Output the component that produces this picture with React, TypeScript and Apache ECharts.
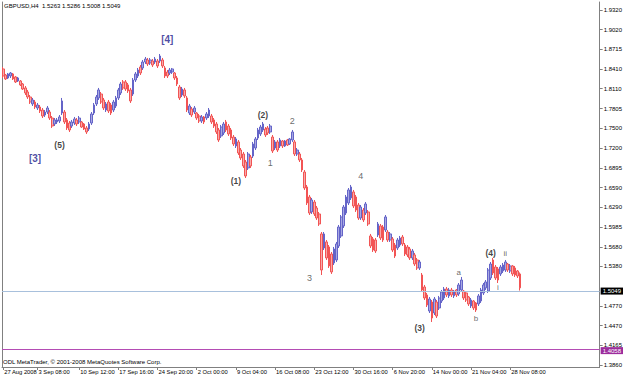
import React, { useEffect, useRef } from "react";
import * as echarts from "echarts";

// H8-style bars (each = two H4 bars), [open, close, low, high]
const augSep: number[][] = [
  [1.8414, 1.8306, 1.8275, 1.8444], [1.8321, 1.8260, 1.8244, 1.8337], [1.8275, 1.8337, 1.8260, 1.8352], [1.8306, 1.8352, 1.8275, 1.8367],
  [1.8337, 1.8260, 1.8244, 1.8352], [1.8291, 1.8214, 1.8198, 1.8306], [1.8229, 1.8275, 1.8214, 1.8291], [1.8229, 1.8168, 1.8152, 1.8244],
  [1.8183, 1.8106, 1.8091, 1.8198], [1.8122, 1.8045, 1.8014, 1.8152], [1.8060, 1.7983, 1.7953, 1.8091], [1.7983, 1.7906, 1.7876, 1.8014],
  [1.7876, 1.7937, 1.7845, 1.7968], [1.7906, 1.7829, 1.7799, 1.7937], [1.7814, 1.7860, 1.7783, 1.7891], [1.7829, 1.7768, 1.7737, 1.7860],
  [1.7783, 1.7691, 1.7660, 1.7814], [1.7706, 1.7752, 1.7676, 1.7783], [1.7752, 1.7814, 1.7722, 1.7845], [1.7752, 1.7660, 1.7630, 1.7783],
  [1.7660, 1.7537, 1.7507, 1.7691], [1.7568, 1.7630, 1.7537, 1.7660], [1.7599, 1.7630, 1.7568, 1.7660], [1.7614, 1.7676, 1.7583, 1.7706],
  [1.7737, 1.7922, 1.7706, 1.7968], [1.7752, 1.7599, 1.7568, 1.7783], [1.7630, 1.7507, 1.7476, 1.7660], [1.7583, 1.7476, 1.7445, 1.7614],
  [1.7537, 1.7599, 1.7507, 1.7630], [1.7583, 1.7645, 1.7553, 1.7676], [1.7630, 1.7568, 1.7537, 1.7660], [1.7599, 1.7660, 1.7568, 1.7691],
  [1.7599, 1.7522, 1.7507, 1.7614], [1.7568, 1.7491, 1.7476, 1.7583], [1.7507, 1.7445, 1.7415, 1.7537], [1.7491, 1.7568, 1.7461, 1.7599],
  [1.7583, 1.7722, 1.7553, 1.7752], [1.7737, 1.7860, 1.7706, 1.7891], [1.7876, 1.7983, 1.7845, 1.8014], [1.7968, 1.8091, 1.7937, 1.8122],
  [1.8029, 1.7906, 1.7876, 1.8060], [1.7937, 1.7814, 1.7783, 1.7968], [1.7783, 1.7876, 1.7752, 1.7906], [1.7906, 1.7768, 1.7737, 1.7937],
  [1.7860, 1.7737, 1.7706, 1.7891], [1.7783, 1.7906, 1.7752, 1.7937], [1.7845, 1.7968, 1.7814, 1.7999], [1.7968, 1.8091, 1.7937, 1.8122],
  [1.8045, 1.8183, 1.8014, 1.8214], [1.8214, 1.8122, 1.8091, 1.8244], [1.8214, 1.8106, 1.8076, 1.8244], [1.8168, 1.8076, 1.8045, 1.8198],
];
const sepOct: number[][] = [
  [1.8091, 1.7922, 1.7891, 1.8122], [1.8029, 1.8244, 1.7999, 1.8275], [1.8244, 1.8337, 1.8214, 1.8367], [1.8306, 1.8398, 1.8275, 1.8429],
  [1.8444, 1.8352, 1.8321, 1.8475], [1.8429, 1.8521, 1.8398, 1.8552], [1.8521, 1.8567, 1.8491, 1.8598], [1.8552, 1.8491, 1.8460, 1.8583],
  [1.8506, 1.8552, 1.8475, 1.8583], [1.8537, 1.8475, 1.8444, 1.8567], [1.8521, 1.8567, 1.8491, 1.8598], [1.8537, 1.8460, 1.8429, 1.8567],
  [1.8537, 1.8613, 1.8506, 1.8644], [1.8552, 1.8460, 1.8429, 1.8583], [1.8429, 1.8306, 1.8275, 1.8460], [1.8367, 1.8306, 1.8275, 1.8398],
  [1.8352, 1.8398, 1.8321, 1.8429], [1.8367, 1.8414, 1.8337, 1.8429], [1.8352, 1.8275, 1.8244, 1.8367], [1.8275, 1.8183, 1.8152, 1.8306],
  [1.8137, 1.7968, 1.7937, 1.8168], [1.8014, 1.8106, 1.7983, 1.8137], [1.8091, 1.7999, 1.7968, 1.8122], [1.7968, 1.7783, 1.7752, 1.7999],
  [1.7737, 1.7845, 1.7706, 1.7876], [1.7799, 1.7706, 1.7676, 1.7829], [1.7752, 1.7814, 1.7722, 1.7845], [1.7737, 1.7660, 1.7630, 1.7752],
  [1.7691, 1.7614, 1.7583, 1.7722], [1.7614, 1.7676, 1.7583, 1.7706], [1.7676, 1.7599, 1.7568, 1.7691], [1.7660, 1.7722, 1.7630, 1.7752],
  [1.7691, 1.7783, 1.7660, 1.7814], [1.7691, 1.7599, 1.7568, 1.7722], [1.7630, 1.7537, 1.7507, 1.7660], [1.7568, 1.7445, 1.7415, 1.7599],
  [1.7476, 1.7322, 1.7292, 1.7507], [1.7384, 1.7522, 1.7353, 1.7553], [1.7430, 1.7568, 1.7399, 1.7599], [1.7599, 1.7476, 1.7445, 1.7630],
  [1.7537, 1.7415, 1.7384, 1.7568], [1.7476, 1.7353, 1.7322, 1.7507], [1.7368, 1.7261, 1.7230, 1.7399], [1.7230, 1.7338, 1.7199, 1.7368],
  [1.7292, 1.7122, 1.7092, 1.7322], [1.7168, 1.7046, 1.7015, 1.7199], [1.7107, 1.6923, 1.6892, 1.7138], [1.6984, 1.6769, 1.6738, 1.7015],
  [1.6892, 1.7107, 1.6861, 1.7138], [1.7061, 1.6923, 1.6892, 1.7092], [1.7076, 1.7261, 1.7046, 1.7292], [1.7199, 1.7338, 1.7168, 1.7368],
];
const octNov: number[][] = [
  [1.7353, 1.7476, 1.7322, 1.7507], [1.7415, 1.7522, 1.7384, 1.7553], [1.7476, 1.7568, 1.7445, 1.7599], [1.7491, 1.7399, 1.7368, 1.7522],
  [1.7507, 1.7430, 1.7399, 1.7537], [1.7445, 1.7537, 1.7415, 1.7568], [1.7368, 1.7153, 1.7122, 1.7399], [1.7199, 1.7292, 1.7168, 1.7322],
  [1.7292, 1.7168, 1.7138, 1.7322], [1.7230, 1.7322, 1.7199, 1.7353], [1.7307, 1.7230, 1.7199, 1.7322], [1.7230, 1.7307, 1.7215, 1.7322],
  [1.7322, 1.7245, 1.7230, 1.7338], [1.7261, 1.7338, 1.7245, 1.7353], [1.7322, 1.7445, 1.7292, 1.7476], [1.7292, 1.7107, 1.7076, 1.7322],
  [1.7107, 1.7168, 1.7076, 1.7199], [1.7107, 1.7015, 1.6984, 1.7138], [1.7015, 1.6861, 1.6830, 1.7046], [1.6830, 1.6584, 1.6554, 1.6861],
  [1.6600, 1.6354, 1.6323, 1.6631], [1.6446, 1.6200, 1.6169, 1.6477], [1.6216, 1.6400, 1.6185, 1.6431], [1.6369, 1.6185, 1.6154, 1.6400],
  [1.6277, 1.6123, 1.6093, 1.6308], [1.6185, 1.6031, 1.6001, 1.6216], [1.5878, 1.5324, 1.5247, 1.5908], [1.5662, 1.5878, 1.5631, 1.5908],
  [1.5755, 1.5509, 1.5478, 1.5785], [1.5678, 1.5386, 1.5355, 1.5708], [1.5570, 1.5294, 1.5263, 1.5601], [1.5432, 1.5647, 1.5401, 1.5678],
  [1.5478, 1.5724, 1.5447, 1.5755], [1.5693, 1.5985, 1.5662, 1.6016], [1.5847, 1.6139, 1.5816, 1.6169], [1.6001, 1.6292, 1.5970, 1.6323],
  [1.6200, 1.6446, 1.6169, 1.6477], [1.6354, 1.6554, 1.6323, 1.6584], [1.6431, 1.6600, 1.6400, 1.6631], [1.6523, 1.6308, 1.6277, 1.6554],
  [1.6446, 1.6246, 1.6216, 1.6477], [1.6323, 1.6123, 1.6093, 1.6354], [1.6123, 1.6292, 1.6093, 1.6323], [1.6246, 1.6093, 1.6062, 1.6277],
  [1.6200, 1.6339, 1.6169, 1.6369], [1.6216, 1.6031, 1.6001, 1.6246], [1.5847, 1.5693, 1.5662, 1.5878], [1.5801, 1.5631, 1.5601, 1.5831],
  [1.5785, 1.5616, 1.5586, 1.5816], [1.5862, 1.6031, 1.5831, 1.6062], [1.6001, 1.5816, 1.5785, 1.6031], [1.5985, 1.5785, 1.5755, 1.6016],
];
const novBars: number[][] = [
  [1.5939, 1.6139, 1.5908, 1.6169], [1.5908, 1.5785, 1.5755, 1.5939], [1.5785, 1.5878, 1.5755, 1.5908], [1.5801, 1.5631, 1.5601, 1.5831],
  [1.5708, 1.5539, 1.5509, 1.5739], [1.5662, 1.5785, 1.5631, 1.5816], [1.5708, 1.5816, 1.5678, 1.5847], [1.5831, 1.5724, 1.5693, 1.5862],
  [1.5708, 1.5570, 1.5539, 1.5739], [1.5678, 1.5555, 1.5524, 1.5708], [1.5647, 1.5509, 1.5478, 1.5678], [1.5509, 1.5616, 1.5478, 1.5647],
  [1.5555, 1.5416, 1.5386, 1.5586], [1.5478, 1.5355, 1.5324, 1.5509], [1.5355, 1.5447, 1.5324, 1.5478], [1.5247, 1.5017, 1.4986, 1.5278],
  [1.5063, 1.4894, 1.4863, 1.5094], [1.4940, 1.4786, 1.4755, 1.4971], [1.4694, 1.4878, 1.4663, 1.4909], [1.4832, 1.4586, 1.4525, 1.4863],
  [1.4663, 1.4878, 1.4632, 1.4909], [1.4832, 1.4617, 1.4586, 1.4863], [1.4740, 1.4894, 1.4709, 1.4925], [1.4848, 1.4986, 1.4817, 1.5017],
  [1.4894, 1.5032, 1.4863, 1.5063], [1.5032, 1.4940, 1.4909, 1.5063], [1.4925, 1.5017, 1.4894, 1.5048], [1.5017, 1.4940, 1.4909, 1.5048],
  [1.4925, 1.5001, 1.4894, 1.5017], [1.5017, 1.4940, 1.4909, 1.5032], [1.4955, 1.5094, 1.4925, 1.5124], [1.5017, 1.5170, 1.4986, 1.5217],
  [1.5001, 1.4894, 1.4863, 1.5017], [1.4971, 1.4863, 1.4832, 1.4986], [1.4909, 1.4802, 1.4771, 1.4925], [1.4771, 1.4863, 1.4740, 1.4894],
  [1.4848, 1.4740, 1.4709, 1.4863], [1.4817, 1.4709, 1.4679, 1.4832], [1.4802, 1.4925, 1.4771, 1.4955], [1.4848, 1.5017, 1.4817, 1.5048],
  [1.4971, 1.5094, 1.4940, 1.5124], [1.5048, 1.5140, 1.5017, 1.5170], [1.5001, 1.5324, 1.4971, 1.5355], [1.5201, 1.5416, 1.5170, 1.5447],
  [1.5478, 1.5278, 1.5247, 1.5509], [1.5370, 1.5201, 1.5170, 1.5401], [1.5340, 1.5170, 1.5124, 1.5370], [1.5263, 1.5370, 1.5232, 1.5401],
  [1.5309, 1.5401, 1.5278, 1.5432], [1.5324, 1.5447, 1.5294, 1.5478], [1.5416, 1.5324, 1.5294, 1.5432], [1.5309, 1.5386, 1.5278, 1.5416],
  [1.5386, 1.5263, 1.5232, 1.5401], [1.5355, 1.5247, 1.5217, 1.5386], [1.5309, 1.5232, 1.5201, 1.5324], [1.5263, 1.5049, 1.5008, 1.5286],
];

const slotCount = 244;
const timeLabelIdx = [0, 14, 31, 47, 63, 79, 95, 111, 127, 143, 159, 175, 191, 207];
const timeLabelText = [
  "27 Aug 2008", "3 Sep 08:00", "10 Sep 12:00", "17 Sep 16:00", "24 Sep 20:00", "2 Oct 00:00", "9 Oct 04:00",
  "16 Oct 08:00", "23 Oct 12:00", "30 Oct 16:00", "6 Nov 20:00", "14 Nov 00:00", "21 Nov 04:00", "28 Nov 08:00",
];
const priceTicks = [1.932, 1.902, 1.8715, 1.841, 1.811, 1.7805, 1.75, 1.72, 1.6895, 1.659, 1.629, 1.5985, 1.568, 1.538, 1.477, 1.447, 1.4165, 1.386];
const bidPrice = 1.5049;
const levelPrice = 1.4058;
const titleText = "GBPUSD,H4  1.5263 1.5286 1.5008 1.5049";
const copyrightText = "ODL MetaTrader, \u00a9 2001-2008 MetaQuotes Software Corp.";

const majorWaves = [
  { text: "[4]", idx: 67, price: 1.8867 },
  { text: "[3]", idx: 13, price: 1.703 },
];
const intermediateWaves = [
  { text: "(5)", idx: 23, price: 1.7245 },
  { text: "(1)", idx: 95, price: 1.6692 },
  { text: "(2)", idx: 106, price: 1.7706 },
  { text: "(3)", idx: 170, price: 1.444 },
  { text: "(4)", idx: 199, price: 1.5585 },
];
const minorWaves = [
  { text: "1", idx: 109, price: 1.6976 },
  { text: "2", idx: 118, price: 1.7607 },
  { text: "3", idx: 125, price: 1.5194 },
  { text: "4", idx: 146, price: 1.6769 },
];
const subWaves = [
  { text: "a", idx: 186, price: 1.5278 },
  { text: "b", idx: 193, price: 1.4579 },
  { text: "i", idx: 202, price: 1.5055 },
  { text: "ii", idx: 205, price: 1.557 },
];

const FONT = "Liberation Sans, Arial, sans-serif";

function waveSeries(list: { text: string; idx: number; price: number }[], label: any) {
  return {
    type: "scatter",
    data: list.map((w) => ({ value: [w.idx, w.price], name: w.text })),
    symbolSize: 1,
    itemStyle: { color: "rgba(0,0,0,0)" },
    silent: true,
    z: 5,
    label: { show: true, position: "inside", formatter: "{b}", fontFamily: FONT, ...label },
  };
}

export default function App() {
  const ref = useRef<HTMLDivElement>(null);
  useEffect(() => {
    if (!ref.current) return;
    const chart = echarts.init(ref.current, undefined, { renderer: "svg" });
    const bars = [...augSep, ...sepOct, ...octNov, ...novBars];
    const cats = Array.from({ length: slotCount }, (_, i) => String(i));
    const labelMap = new Map<number, string>();
    timeLabelIdx.forEach((k, j) => labelMap.set(k, timeLabelText[j]));
    const yMin = 1.3833;
    const yMax = 1.9443;
    const frame = { color: "#808080", width: 1 };
    chart.setOption({
      animation: false,
      backgroundColor: "#ffffff",
      grid: { left: 2, right: 24, top: 2, bottom: 11 },
      xAxis: {
        type: "category",
        data: cats,
        boundaryGap: true,
        axisLine: { show: true, lineStyle: frame },
        axisTick: {
          show: true,
          alignWithLabel: true,
          interval: (i: number) => labelMap.has(i),
          length: 3,
          lineStyle: frame,
        },
        axisLabel: {
          interval: (i: number) => labelMap.has(i),
          formatter: (v: string) => labelMap.get(Number(v)) ?? "",
          showMinLabel: true,
          showMaxLabel: true,
          hideOverlap: false,
          align: "left",
          margin: 2,
          fontSize: 5.8,
          color: "#000",
          fontFamily: FONT,
          padding: [0, 0, 0, 1],
        },
        splitLine: { show: false },
      },
      yAxis: [
        {
          type: "value",
          position: "right",
          min: yMin,
          max: yMax,
          axisLine: { show: true, lineStyle: frame },
          axisTick: { show: true, customValues: priceTicks, length: 3, lineStyle: frame },
          axisLabel: {
            customValues: priceTicks,
            formatter: (v: number) => v.toFixed(4),
            fontSize: 6,
            lineHeight: 6,
            margin: 4,
            color: "#000",
            fontFamily: FONT,
          },
          splitLine: { show: false },
        },
        {
          type: "value",
          position: "left",
          min: yMin,
          max: yMax,
          axisLine: { show: true, lineStyle: frame },
          axisTick: { show: false },
          axisLabel: { show: false },
          splitLine: { show: false },
        },
      ],
      series: [
        {
          type: "candlestick",
          data: bars,
          barWidth: 2.2,
          clip: false,
          itemStyle: {
            color: "#a8a8e2",
            color0: "#f7aaaa",
            borderColor: "#6464c8",
            borderColor0: "#f25454",
            borderWidth: 1,
          },
          markLine: {
            silent: true,
            symbol: ["none", "none"],
            animation: false,
            data: [
              {
                yAxis: bidPrice,
                lineStyle: { color: "#a8c0dc", width: 1, type: "solid" },
                label: {
                  show: true,
                  position: "end",
                  distance: 1,
                  formatter: bidPrice.toFixed(4),
                  backgroundColor: "#000",
                  color: "#fff",
                  fontSize: 6,
                  lineHeight: 6,
                  fontFamily: FONT,
                  padding: [1, 2, 0, 2],
                },
              },
              {
                yAxis: levelPrice,
                lineStyle: { color: "#b44cb4", width: 1, type: "solid" },
                label: {
                  show: true,
                  position: "end",
                  distance: 1,
                  offset: [0, 1],
                  formatter: levelPrice.toFixed(4),
                  backgroundColor: "#9c2c9c",
                  color: "#fff",
                  fontSize: 6,
                  lineHeight: 6,
                  fontFamily: FONT,
                  padding: [0, 2, 1, 2],
                },
              },
            ],
          },
        },
        waveSeries(majorWaves, { fontSize: 10, fontWeight: "bold", color: "#1e1e8c" }),
        waveSeries(intermediateWaves, { fontSize: 8.5, fontWeight: "bold", color: "#111" }),
        waveSeries(minorWaves, { fontSize: 9, color: "#444" }),
        waveSeries(subWaves, { fontSize: 8, color: "#444" }),
      ],
      graphic: [
        {
          type: "text",
          left: 4,
          top: 3,
          style: { text: titleText, fontSize: 6, fill: "#000", fontFamily: FONT },
        },
        {
          type: "text",
          left: 3,
          top: 359,
          style: { text: copyrightText, fontSize: 6, fill: "#000", fontFamily: FONT },
        },
      ],
    });
    return () => chart.dispose();
  }, []);
  return (
    <div
      ref={ref}
      style={{ position: "fixed", left: 0, top: 0, width: 625, height: 378, background: "#fff" }}
    />
  );
}
